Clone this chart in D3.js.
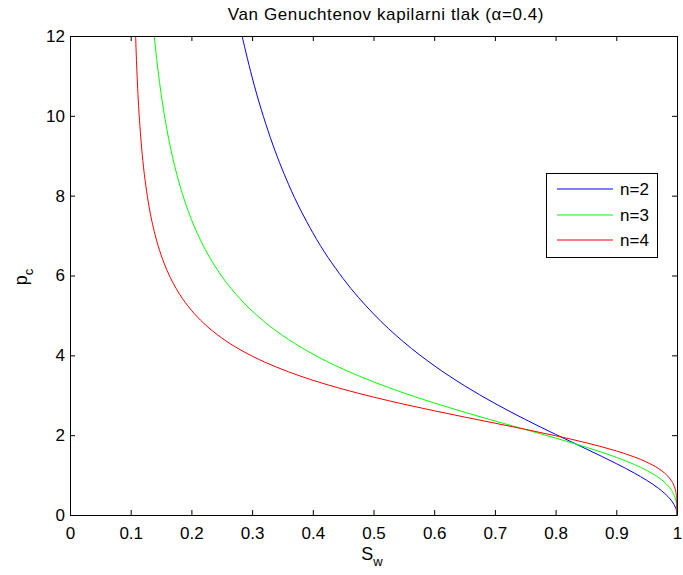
<!DOCTYPE html>
<html>
<head>
<meta charset="utf-8">
<script src="https://cdn.jsdelivr.net/npm/d3@7"></script>
<style>
  html, body { margin: 0; padding: 0; background: #fff; }
  svg { display: block; font-family: "Liberation Sans", Arial, Helvetica, sans-serif; }
</style>
</head>
<body>
<svg id="chart" width="683" height="575"></svg>
<script>
// ---- data ----
const titleText = "Van Genuchtenov kapilarni tlak (\u03B1=0.4)";
const seriesNames = ["n=2", "n=3", "n=4"];

const sw2 = [0.27, 0.28, 0.30, 0.33, 0.36, 0.40, 0.45, 0.50, 0.55, 0.60, 0.65, 0.70, 0.75, 0.80, 0.85, 0.90, 0.93, 0.95, 0.97, 0.98, 0.99, 0.995, 0.998, 0.999, 1.0];
const pc2 = [13.00, 12.247, 10.969, 9.458, 8.285, 7.071, 5.923, 5.039, 4.330, 3.742, 3.238, 2.795, 2.394, 2.020, 1.658, 1.288, 1.048, 0.870, 0.662, 0.536, 0.376, 0.265, 0.167, 0.118, 0];

const sw3 = [0.135, 0.14, 0.145, 0.15, 0.16, 0.17, 0.18, 0.20, 0.22, 0.25, 0.28, 0.32, 0.36, 0.40, 0.45, 0.50, 0.55, 0.60, 0.65, 0.70, 0.75, 0.80, 0.85, 0.90, 0.93, 0.95, 0.97, 0.98, 0.99, 0.995, 0.998, 0.999, 0.9995, 1.0];
const pc3 = [12.645, 11.82, 11.139, 10.560, 9.627, 8.899, 8.311, 7.406, 6.734, 5.982, 5.418, 4.844, 4.397, 4.032, 3.654, 3.336, 3.057, 2.807, 2.575, 2.356, 2.142, 1.927, 1.700, 1.445, 1.264, 1.118, 0.934, 0.812, 0.642, 0.508, 0.374, 0.297, 0.235, 0];

const sw4 = [0.105, 0.107, 0.109, 0.111, 0.113, 0.116, 0.12, 0.125, 0.13, 0.14, 0.15, 0.16, 0.18, 0.20, 0.22, 0.25, 0.28, 0.32, 0.36, 0.40, 0.45, 0.50, 0.55, 0.60, 0.65, 0.70, 0.75, 0.80, 0.85, 0.90, 0.93, 0.95, 0.97, 0.98, 0.99, 0.995, 0.998, 0.999, 0.9995, 1.0];
const pc4 = [14.11, 12.61, 11.598, 10.846, 10.256, 9.568, 8.878, 8.238, 7.747, 7.030, 6.517, 6.123, 5.545, 5.129, 4.808, 4.435, 4.144, 3.836, 3.587, 3.376, 3.151, 2.954, 2.776, 2.611, 2.454, 2.301, 2.146, 1.986, 1.811, 1.605, 1.453, 1.326, 1.159, 1.044, 0.875, 0.735, 0.584, 0.491, 0.412, 0];

const xTicks = [0, 0.1, 0.2, 0.3, 0.4, 0.5, 0.6, 0.7, 0.8, 0.9, 1];
const xTickLabels = ["0", "0.1", "0.2", "0.3", "0.4", "0.5", "0.6", "0.7", "0.8", "0.9", "1"];
const yTicks = [0, 2, 4, 6, 8, 10, 12];
const yTickLabels = ["0", "2", "4", "6", "8", "10", "12"];

// ---- styles / layout ----
const colors = ["#0000ff", "#00ff00", "#ff0000"];
const margin = { left: 70, top: 36, right: 683 - 677, bottom: 575 - 515 };
const W = 683, H = 575;
const iw = W - margin.left - margin.right;
const ih = H - margin.top - margin.bottom;

const series = [
  { name: seriesNames[0], xs: sw2, ys: pc2 },
  { name: seriesNames[1], xs: sw3, ys: pc3 },
  { name: seriesNames[2], xs: sw4, ys: pc4 }
];

const svg = d3.select("#chart");
const g = svg.append("g").attr("transform", `translate(${margin.left},${margin.top})`);

const x = d3.scaleLinear().domain([0, 1]).range([0, iw]);
const y = d3.scaleLinear().domain([0, 12]).range([ih, 0]);

g.append("rect").attr("width", iw).attr("height", ih).attr("fill", "#fff");

g.append("clipPath").attr("id", "clip")
  .append("rect").attr("width", iw).attr("height", ih);

const line = d3.line()
  .x(d => x(d[0]))
  .y(d => y(d[1]))
  .curve(d3.curveMonotoneX);

g.append("g").attr("clip-path", "url(#clip)")
  .selectAll("path")
  .data(series)
  .join("path")
  .attr("fill", "none")
  .attr("stroke", (d, i) => colors[i])
  .attr("stroke-width", 1)
  .attr("d", d => line(d.xs.map((v, i) => [v, d.ys[i]])));

// axes
const tickLen = 5;
const fmtX = (d) => xTickLabels[xTicks.indexOf(d)];
const fmtY = (d) => yTickLabels[yTicks.indexOf(d)];

const axB = g.append("g").attr("transform", `translate(0,${ih})`)
  .call(d3.axisBottom(x).tickValues(xTicks).tickFormat(fmtX).tickSize(-tickLen).tickSizeOuter(0).tickPadding(12));
const axT = g.append("g")
  .call(d3.axisTop(x).tickValues(xTicks).tickFormat("").tickSize(-tickLen).tickSizeOuter(0));
const axL = g.append("g")
  .call(d3.axisLeft(y).tickValues(yTicks).tickFormat(fmtY).tickSize(-tickLen).tickSizeOuter(0).tickPadding(5));
const axR = g.append("g").attr("transform", `translate(${iw},0)`)
  .call(d3.axisRight(y).tickValues(yTicks).tickFormat("").tickSize(-tickLen).tickSizeOuter(0));

[axB, axT, axL, axR].forEach(a => {
  a.select(".domain").attr("stroke", "#000").attr("stroke-width", 1);
  a.selectAll(".tick line").attr("stroke", "#000").attr("stroke-width", 1);
  a.selectAll("text").attr("font-size", 17).attr("fill", "#000")
    .attr("font-family", '"Liberation Sans", Arial, Helvetica, sans-serif');
});

// title
svg.append("text")
  .attr("x", 386).attr("y", 20)
  .attr("text-anchor", "middle")
  .attr("font-size", 17)
  .attr("letter-spacing", 0.6)
  .attr("fill", "#000")
  .text(titleText);

// x label
const xl = svg.append("text")
  .attr("x", 372).attr("y", 560)
  .attr("text-anchor", "middle")
  .attr("font-size", 18)
  .attr("fill", "#000");
xl.append("tspan").text("S");
xl.append("tspan").attr("font-size", 13).attr("dy", 6).text("w");

// y label
const yl = svg.append("text")
  .attr("transform", "translate(27,277) rotate(-90)")
  .attr("text-anchor", "middle")
  .attr("font-size", 18)
  .attr("fill", "#000");
yl.append("tspan").text("p");
yl.append("tspan").attr("font-size", 13).attr("dy", 6).text("c");

// legend
const lg = svg.append("g");
lg.append("rect")
  .attr("x", 546.5).attr("y", 173.5).attr("width", 111).attr("height", 84)
  .attr("fill", "#fff").attr("stroke", "#000").attr("stroke-width", 1);
const rowsY = [189, 215, 240];
series.forEach((s, i) => {
  lg.append("line")
    .attr("x1", 557).attr("x2", 613)
    .attr("y1", rowsY[i]).attr("y2", rowsY[i])
    .attr("stroke", colors[i]).attr("stroke-width", 1);
  lg.append("text")
    .attr("x", 620).attr("y", rowsY[i] + 6)
    .attr("font-size", 17).attr("fill", "#000")
    .text(s.name);
});
</script>
</body>
</html>
